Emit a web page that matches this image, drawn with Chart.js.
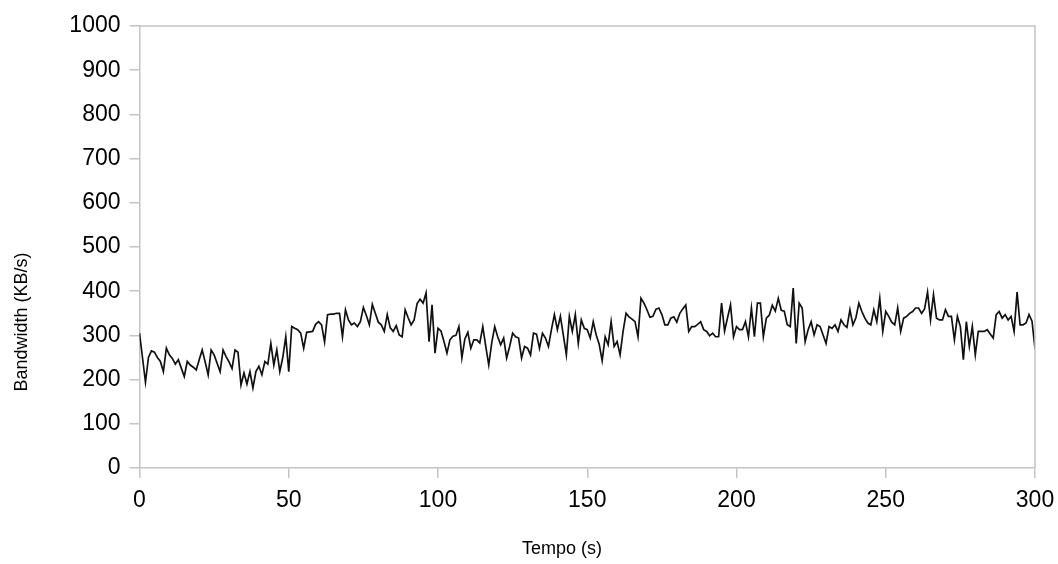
<!DOCTYPE html>
<html>
<head>
<meta charset="utf-8">
<script src="https://cdn.jsdelivr.net/npm/chart.js@4.4.0/dist/chart.umd.min.js"></script>
<style>
  html, body { margin: 0; padding: 0; background: #fff; }
  #wrap { width: 1058px; height: 564px; }
</style>
</head>
<body>
<div id="wrap"><canvas id="canvas" width="1058" height="564"></canvas></div>
<script>
// bandwidth in KB/s, one sample per second, t = 0..300
const bandwidth = [
  305, 250, 194, 250, 265, 262, 250, 241, 218, 271,
  256, 248, 235, 245, 226, 207, 241, 233, 228, 222,
  245, 267, 240, 211, 267, 256, 237, 218, 267, 252,
  240, 225, 267, 262, 188, 215, 190, 218, 181, 218,
  230, 211, 241, 235, 282, 233, 267, 218, 250, 297,
  218, 320, 316, 313, 305, 271, 307, 308, 309, 325,
  331, 324, 285, 347, 348, 348, 350, 350, 297, 358,
  335, 324, 328, 320, 331, 363, 345, 324, 370, 350,
  330, 324, 309, 347, 317, 309, 322, 301, 297, 358,
  340, 324, 335, 372, 382, 373, 396, 286, 369, 260,
  316, 310, 286, 260, 290, 298, 300, 320, 249, 292,
  307, 271, 290, 290, 283, 320, 275, 233, 283, 320,
  297, 279, 294, 249, 275, 305, 297, 294, 249, 275,
  271, 256, 305, 303, 271, 305, 294, 275, 313, 347,
  313, 343, 300, 256, 343, 309, 347, 282, 335, 316,
  313, 294, 331, 301, 280, 243, 297, 279, 331, 275,
  286, 256, 309, 350, 342, 337, 331, 297, 384, 373,
  358, 341, 343, 359, 362, 347, 324, 324, 339, 342,
  330, 350, 360, 369, 309, 320, 320, 325, 331, 313,
  309, 299, 305, 297, 297, 373, 310, 340, 369, 297,
  320, 313, 313, 331, 297, 362, 297, 373, 373, 297,
  339, 346, 368, 355, 384, 357, 355, 324, 320, 407,
  282, 373, 362, 286, 313, 331, 301, 324, 320, 301,
  282, 320, 316, 324, 309, 335, 324, 318, 358, 324,
  340, 373, 354, 339, 328, 324, 358, 331, 384, 309,
  354, 343, 330, 324, 362, 309, 339, 343, 350, 354,
  362, 362, 350, 360, 398, 335, 392, 339, 335, 335,
  358, 343, 343, 290, 343, 320, 245, 331, 275, 320,
  256, 309, 309, 309, 313, 303, 294, 347, 354, 339,
  347, 335, 343, 309, 398, 324, 324, 328, 347, 332, 270
];
const xTitle = 'Tempo (s)';
const yTitle = 'Bandwidth (KB/s)';
const xRange = [0, 300];
const yRange = [0, 1000];

const FONT = 'Liberation Sans, Arial, Helvetica, sans-serif';
const AXIS_GREY = '#c4c4c4';

// frame on top/right of plot area + axis titles placed like the original
const frame = {
    id: 'frame',
    afterDraw(chart) {
        const a = chart.chartArea;
        const c = chart.ctx;
        c.save();
        c.strokeStyle = AXIS_GREY;
        c.lineWidth = 1.5;
        c.beginPath();
        c.moveTo(a.left, a.top);
        c.lineTo(a.right, a.top);
        c.lineTo(a.right, a.bottom);
        c.stroke();

        c.fillStyle = '#000';
        c.font = '18px ' + FONT;
        c.textAlign = 'center';
        c.textBaseline = 'middle';
        c.fillText(xTitle, 562, 549);
        c.translate(22, 322);
        c.rotate(-Math.PI / 2);
        c.fillText(yTitle, 0, 0);
        c.restore();
    }
};

const points = bandwidth.map((v, i) => ({ x: i, y: v }));

const ctx = document.getElementById('canvas').getContext('2d');
new Chart(ctx, {
    type: 'line',
    data: {
        datasets: [{
            data: points,
            borderColor: '#111',
            borderWidth: 1.7,
            pointRadius: 0,
            tension: 0,
            fill: false
        }]
    },
    options: {
        responsive: false,
        animation: false,
        layout: { padding: { left: 0, right: 23, top: 26, bottom: 0 } },
        plugins: { legend: { display: false }, tooltip: { enabled: false } },
        scales: {
            x: {
                type: 'linear',
                min: xRange[0],
                max: xRange[1],
                ticks: { stepSize: 50, color: '#000', font: { family: FONT, size: 23 }, padding: 9, maxRotation: 0 },
                grid: { drawOnChartArea: false, color: AXIS_GREY, tickLength: 10, lineWidth: 1.5 },
                border: { color: AXIS_GREY, width: 1.5 },
                afterFit(scale) { scale.height = 96; scale.paddingRight = 0; scale.paddingLeft = 0; }
            },
            y: {
                min: yRange[0],
                max: yRange[1],
                ticks: { stepSize: 100, color: '#000', font: { family: FONT, size: 23 }, padding: 9,
                         callback: v => String(v) },
                grid: { drawOnChartArea: false, color: AXIS_GREY, tickLength: 10, lineWidth: 1.5 },
                border: { color: AXIS_GREY, width: 1.5 },
                afterFit(scale) { scale.width = 139.5; scale.paddingTop = 0; scale.paddingBottom = 0; }
            }
        }
    },
    plugins: [frame]
});
</script>
</body>
</html>
